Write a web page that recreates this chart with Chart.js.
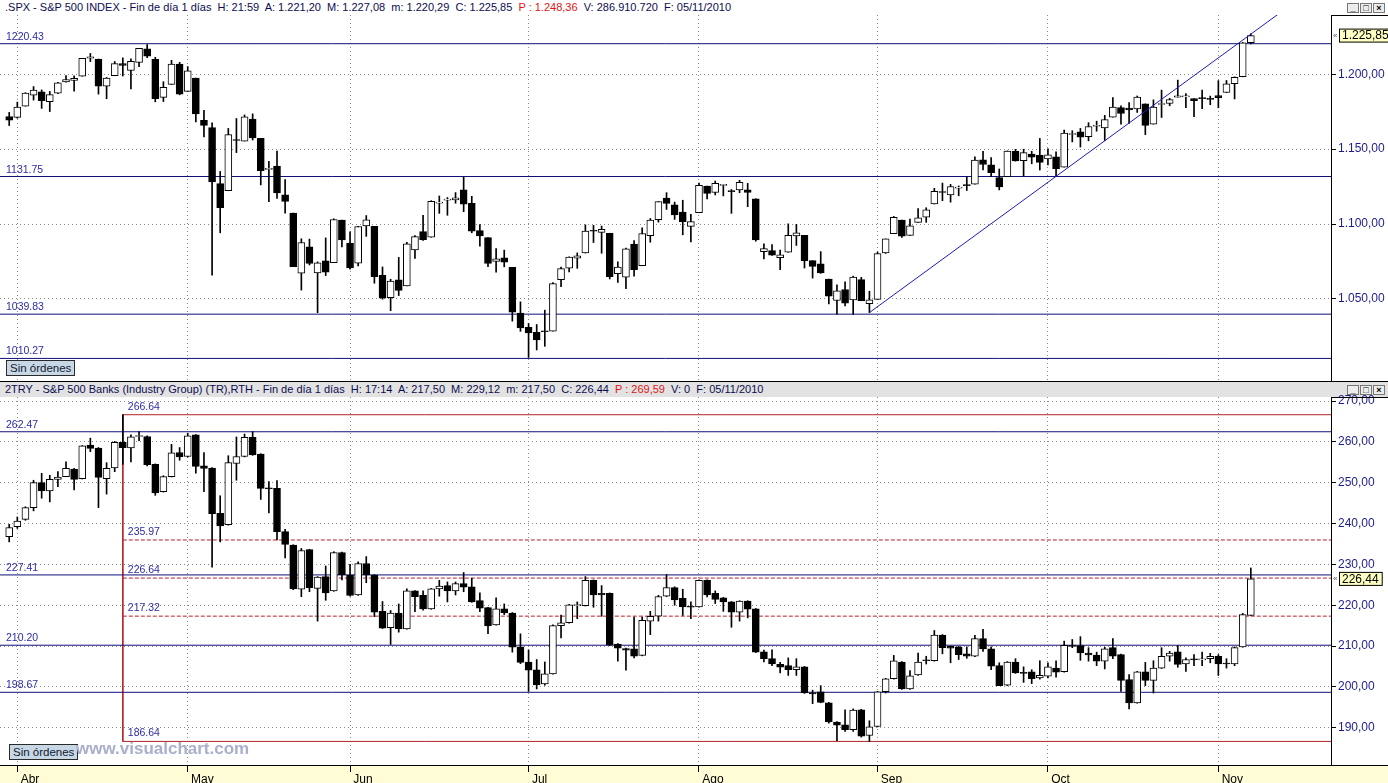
<!DOCTYPE html>
<html>
<head>
<meta charset="utf-8">
<script src="https://cdn.jsdelivr.net/npm/chart.js@4.4.0/dist/chart.umd.min.js"></script>
<style>
  body { margin: 0; width: 1388px; height: 783px; overflow: hidden; background: #fff; position: relative;
         font-family: "Liberation Sans", Arial, sans-serif; }
  .abs { position: absolute; }
  .hdr { left: 0; width: 1388px; height: 15px; font-size: 11px; line-height: 15px; color: #0c0c50;
         white-space: nowrap; box-sizing: border-box; padding-left: 5px; }
  .red { color: #e01414; }
  .btns { position: absolute; right: 3px; top: 3px; display: flex; gap: 1px; }
  .btns span { width: 10px; height: 8px; border: 1px solid #777; background: #ececec; font-size: 9px;
               line-height: 8px; text-align: center; color: #000; font-weight: bold; }
  .sin { font-size: 11.5px; background: #c8d7e6; border: 1px solid #2a2a2a; padding: 0 3px; line-height: 14px; color: #10202e; z-index: 3; }
  .line { background: #000; z-index: 3; }
</style>
</head>
<body>
<div class="abs hdr" style="top:0;background:#fff">.SPX - S&amp;P 500 INDEX - Fin de día 1 días&nbsp; H: 21:59&nbsp; A: 1.221,20&nbsp; M: 1.227,08&nbsp; m: 1.220,29&nbsp; C: 1.225,85&nbsp; <span class="red">P : 1.248,36</span>&nbsp; V: 286.910.720&nbsp; F: 05/11/2010
  <div class="btns"><span>_</span><span>□</span><span>×</span></div></div>
<div class="abs" style="left:0;top:15px;width:1388px;height:366px;z-index:1"><canvas id="spxChart"></canvas></div>
<div class="abs line" style="left:1331px;top:15px;width:57px;height:1px"></div>
<div class="abs line" style="left:0;top:381px;width:1388px;height:1px"></div>
<div class="abs hdr" style="top:382px;background:#e2e2e2">2TRY - S&amp;P 500 Banks (Industry Group) (TR),RTH - Fin de día 1 días&nbsp; H: 17:14&nbsp; A: 217,50&nbsp; M: 229,12&nbsp; m: 217,50&nbsp; C: 226,44&nbsp; <span class="red">P : 269,59</span>&nbsp; V: 0&nbsp; F: 05/11/2010
  <div class="btns"><span>_</span><span>□</span><span>×</span></div></div>
<div class="abs" style="left:0;top:765px;width:1388px;height:18px;background:#fffcd6"></div>
<div class="abs" style="left:0;top:390px;width:1388px;height:393px;z-index:1"><canvas id="bankChart"></canvas></div>
<div class="abs line" style="left:1331px;top:397px;width:57px;height:1px"></div>
<div class="abs line" style="left:1331px;top:765px;width:57px;height:1px"></div>
<div class="abs sin" style="left:6px;top:360px">Sin órdenes</div>
<div class="abs sin" style="left:9px;top:744px">Sin órdenes</div>
<div class="abs" style="left:76px;top:739px;font:bold 17px 'Liberation Sans',Arial,sans-serif;color:#a9afcc;z-index:3">www.visualchart.com</div>

<script>
// trading days 31/03/2010 .. 05/11/2010, index 0 = 31 Mar
const MONTH_TICKS = [1, 22, 42, 64, 85, 107, 128, 149];
const MONTH_LABELS = ['Abr', 'May', 'Jun', 'Jul', 'Ago', 'Sep', 'Oct', 'Nov'];

const SPX_OPEN = [
  1171.75,1171.23,1178.71,1186.01,1188.23,1181.75,1187.47,1194.94,1195.94,1198.69,
  1210.77,1210.17,1192.06,1199.04,1207.16,1202.52,1207.87,1217.07,1209.92,1184.59,
  1193.30,1206.77,1188.58,1197.50,1169.24,1164.38,1127.04,1122.27,1156.39,1155.43,
  1170.04,1157.19,1136.52,1138.78,1119.57,1107.34,1067.26,1084.78,1067.42,1075.51,
  1074.27,1102.59,1087.30,1073.89,1098.82,1098.43,1065.84,1050.81,1062.75,1058.77,
  1082.65,1095.00,1091.21,1114.02,1115.98,1116.16,1122.79,1113.90,1095.57,1090.93,
  1075.10,1077.50,1071.10,1040.56,1031.10,1027.65,1028.09,1028.54,1062.92,1070.50,
  1077.23,1080.65,1095.61,1094.46,1093.85,1066.85,1064.53,1086.67,1072.14,1092.17,
  1102.89,1117.36,1112.84,1108.07,1098.44,1107.53,1125.34,1121.06,1125.78,1122.07,
  1122.80,1122.92,1116.89,1081.48,1082.22,1077.49,1081.16,1092.08,1092.44,1075.63,
  1073.36,1063.20,1048.98,1056.28,1049.27,1062.90,1046.88,1049.72,1080.66,1093.61,
  1102.60,1092.36,1101.15,1104.57,1113.38,1121.16,1119.43,1123.89,1126.39,1126.57,
  1142.82,1139.49,1131.10,1131.69,1148.64,1142.31,1146.75,1145.97,1143.49,1144.96,
  1138.03,1159.81,1161.57,1158.36,1165.32,1164.28,1171.32,1177.82,1177.47,1176.83,
  1180.26,1166.74,1179.82,1180.52,1184.74,1184.88,1183.84,1184.47,1183.87,1185.71,
  1187.86,1193.79,1198.34,1221.20];
const SPX_HIGH = [
  1174.56,1181.43,1187.73,1191.80,1189.60,1188.55,1194.66,1199.20,1199.04,1210.65,
  1213.92,1210.17,1197.87,1208.58,1210.99,1210.27,1217.28,1219.80,1211.38,1195.05,
  1209.36,1207.99,1205.13,1197.50,1175.95,1167.58,1135.13,1163.85,1170.48,1172.87,
  1173.57,1157.19,1141.88,1148.66,1129.63,1107.34,1090.16,1089.95,1074.75,1090.75,
  1103.52,1102.59,1094.77,1098.56,1105.67,1098.43,1071.36,1063.15,1077.74,1087.85,
  1092.25,1105.91,1115.59,1118.74,1117.72,1121.01,1131.23,1118.50,1099.64,1090.93,
  1083.56,1082.60,1071.10,1048.08,1033.58,1032.95,1042.50,1060.89,1071.25,1078.16,
  1080.78,1099.46,1099.08,1098.66,1093.85,1074.70,1083.94,1088.96,1097.50,1103.73,
  1115.01,1120.95,1114.66,1115.90,1106.44,1127.30,1125.44,1128.75,1126.56,1123.06,
  1129.24,1127.16,1116.89,1086.72,1086.25,1082.62,1100.14,1099.77,1092.44,1075.63,
  1081.58,1063.20,1059.38,1061.45,1065.21,1064.40,1055.14,1081.30,1090.10,1105.10,
  1102.60,1103.26,1110.27,1110.88,1123.87,1127.36,1126.46,1125.44,1131.47,1144.86,
  1148.59,1144.38,1136.77,1148.90,1149.92,1150.00,1148.63,1157.16,1150.30,1148.16,
  1162.76,1162.33,1163.87,1167.73,1168.68,1172.58,1184.38,1178.89,1181.20,1185.53,
  1180.26,1182.94,1189.43,1183.93,1196.14,1187.11,1183.84,1189.53,1185.46,1195.81,
  1195.88,1198.30,1221.25,1227.08];
const SPX_LOW = [
  1165.77,1170.69,1178.71,1182.77,1177.25,1175.12,1187.15,1194.71,1188.82,1198.69,
  1208.50,1186.77,1183.68,1199.04,1198.85,1190.19,1205.10,1211.07,1181.62,1181.81,
  1193.30,1186.32,1188.58,1168.12,1158.15,1065.79,1094.15,1122.27,1147.71,1155.43,
  1156.14,1126.14,1114.96,1117.20,1107.34,1071.58,1055.90,1072.70,1040.78,1065.59,
  1074.27,1084.78,1069.89,1072.03,1091.81,1060.50,1049.86,1042.17,1052.25,1058.77,
  1077.12,1089.03,1091.21,1107.13,1105.87,1113.93,1108.24,1094.18,1085.31,1071.60,
  1067.89,1071.45,1035.18,1028.33,1010.91,1015.93,1018.35,1028.54,1058.24,1068.10,
  1070.45,1080.65,1087.68,1080.53,1063.32,1061.11,1056.88,1065.25,1072.14,1087.88,
  1101.30,1109.78,1103.11,1092.82,1088.01,1107.53,1116.76,1119.46,1118.81,1107.17,
  1120.91,1111.58,1088.55,1076.69,1079.00,1069.49,1081.16,1085.76,1070.66,1063.91,
  1067.08,1046.68,1039.83,1045.40,1039.70,1048.79,1040.88,1049.72,1080.39,1093.61,
  1091.15,1092.36,1101.15,1101.15,1113.38,1115.58,1114.63,1118.88,1122.43,1126.57,
  1136.22,1131.58,1122.79,1131.69,1142.00,1132.09,1140.26,1136.08,1139.42,1131.87,
  1138.03,1154.85,1151.41,1155.58,1162.02,1155.71,1171.32,1166.71,1167.12,1174.55,
  1159.71,1166.74,1171.17,1178.99,1184.74,1177.72,1171.70,1177.10,1179.70,1177.65,
  1187.86,1183.56,1198.34,1220.29];
const SPX_CLOSE = [
  1169.43,1178.10,1187.44,1189.44,1182.45,1186.44,1194.37,1196.48,1197.30,1210.65,
  1211.67,1192.13,1197.52,1207.17,1205.94,1208.67,1217.28,1212.05,1183.71,1191.36,
  1206.78,1186.69,1202.26,1173.60,1165.90,1128.15,1110.88,1159.73,1155.79,1171.67,
  1157.44,1135.68,1136.94,1120.80,1115.05,1071.59,1087.69,1073.65,1074.03,1067.95,
  1103.06,1089.41,1070.71,1098.38,1102.83,1064.88,1050.47,1062.00,1055.69,1086.84,
  1091.60,1089.63,1115.23,1114.61,1116.04,1117.51,1113.20,1095.31,1092.04,1073.69,
  1076.76,1074.57,1041.24,1030.71,1027.37,1022.58,1028.06,1060.27,1070.25,1077.96,
  1078.75,1095.34,1095.17,1096.48,1064.88,1071.25,1083.48,1069.59,1093.67,1102.66,
  1115.01,1113.84,1106.13,1101.53,1101.60,1125.86,1120.46,1127.24,1125.81,1121.64,
  1127.79,1121.06,1089.47,1083.61,1079.25,1079.38,1092.54,1094.16,1075.63,1071.69,
  1067.36,1051.87,1055.33,1047.22,1064.59,1048.92,1049.33,1080.29,1090.10,1104.51,
  1091.84,1098.87,1104.18,1109.55,1121.90,1121.10,1125.07,1124.66,1125.59,1142.71,
  1139.78,1134.28,1124.83,1148.67,1142.16,1147.70,1144.73,1141.20,1146.24,1137.03,
  1160.75,1159.97,1158.06,1165.15,1165.32,1169.77,1178.10,1173.81,1176.19,1184.71,
  1165.90,1178.17,1180.26,1183.08,1185.62,1185.64,1182.45,1183.78,1183.26,1184.38,
  1193.57,1197.96,1221.06,1225.85];

const BANK_OPEN = [
  236.8,239.2,241.0,243.9,250.0,248.0,250.8,251.5,253.3,251.0,
  259.2,258.5,251.0,253.6,259.9,258.5,261.3,261.3,254.5,247.8,
  251.5,257.4,256.4,261.7,254.1,253.6,242.5,239.7,254.7,256.4,
  261.1,257.0,248.6,248.6,238.0,234.7,223.9,233.6,224.1,227.0,
  223.5,232.9,227.4,222.5,230.2,227.4,218.5,214.5,218.1,214.2,
  223.5,222.4,219.1,224.0,224.8,223.5,225.3,224.5,221.1,219.4,
  215.2,219.1,218.1,209.8,206.1,204.2,200.7,203.2,215.0,215.7,
  219.9,219.9,226.1,222.9,222.9,210.5,209.4,209.3,207.7,216.1,
  217.3,222.2,224.3,221.7,219.6,219.6,226.1,222.9,221.8,220.8,
  218.3,221.0,219.1,208.6,206.9,205.5,205.2,204.2,204.9,198.4,
  198.8,196.1,191.4,190.7,189.5,194.4,188.1,190.3,198.8,202.0,
  206.1,199.5,202.9,206.5,206.4,212.7,209.9,209.8,208.1,207.5,
  211.8,209.3,205.2,200.4,206.1,203.4,203.7,202.2,202.6,204.6,
  203.7,210.1,210.1,208.3,207.8,206.3,209.6,207.9,201.8,196.1,
  203.7,201.6,204.6,207.5,208.6,205.6,206.7,206.6,206.9,207.5,
  205.7,205.6,209.8,217.5];
const BANK_HIGH = [
  239.8,241.6,244.1,250.6,252.3,251.8,252.7,255.1,253.5,259.1,
  260.9,258.6,254.9,260.1,266.64,261.7,262.5,261.5,254.6,251.7,
  259.4,258.6,262.1,261.8,257.4,253.7,246.8,256.6,261.2,261.9,
  262.5,257.1,250.3,250.5,238.6,234.8,233.9,233.7,227.0,229.6,
  233.1,233.0,230.0,230.6,231.9,227.5,220.9,218.7,220.3,224.0,
  223.6,223.5,224.1,226.1,225.7,225.7,228.0,226.6,223.0,219.5,
  221.8,220.3,218.2,213.0,209.0,206.7,206.1,215.2,217.6,220.2,
  220.8,227.0,226.2,224.8,223.0,210.6,209.5,217.1,217.1,218.5,
  222.4,227.5,224.5,223.9,220.8,226.2,226.2,223.5,221.9,220.9,
  221.1,221.1,219.2,209.0,209.1,206.0,207.1,206.9,205.0,199.2,
  200.3,196.2,191.5,194.4,194.6,194.5,191.7,198.9,202.1,207.7,
  206.2,204.0,208.3,207.5,213.8,212.8,210.0,209.9,209.8,212.6,
  214.1,209.8,205.9,206.2,206.9,204.9,204.2,206.4,205.9,206.4,
  211.2,211.6,212.3,209.6,208.5,209.7,211.8,208.0,203.0,203.8,
  206.0,206.4,209.6,208.7,210.1,207.1,207.9,208.5,208.2,207.9,
  206.9,209.8,218.0,229.12];
const BANK_LOW = [
  235.5,238.8,240.8,243.1,246.2,245.3,249.0,251.5,248.2,250.9,
  257.6,243.9,247.2,252.7,254.5,255.1,260.3,254.1,246.9,247.7,
  251.4,255.5,256.3,252.3,247.8,229.3,235.5,239.6,250.6,256.3,
  256.7,245.9,242.6,236.0,231.6,223.8,222.1,223.3,216.1,221.2,
  223.4,226.2,222.2,222.4,225.5,217.2,214.3,210.4,213.4,214.1,
  218.4,218.8,219.0,222.2,220.8,222.5,223.3,220.7,218.4,213.0,
  215.1,217.7,208.5,205.7,198.9,199.5,200.4,203.1,212.0,215.6,
  216.7,219.8,219.5,217.3,210.1,206.3,204.1,207.1,207.6,212.8,
  216.1,222.1,220.0,217.5,216.7,219.5,222.0,220.4,218.5,214.6,
  216.1,216.9,208.4,206.1,205.2,203.4,202.8,202.8,198.4,195.9,
  196.1,191.1,186.8,189.1,189.1,187.7,186.6,190.2,198.5,201.9,
  199.4,199.4,202.8,205.6,206.3,208.1,205.9,206.7,207.0,207.4,
  208.7,204.2,200.3,200.3,203.3,201.1,200.8,201.9,202.2,202.4,
  203.6,209.6,206.5,206.3,205.2,204.4,206.9,198.9,194.6,196.0,
  200.3,198.5,204.5,206.3,204.8,203.8,205.2,205.2,205.9,202.8,
  204.6,205.2,209.7,217.5];
const BANK_CLOSE = [
  239.0,240.6,243.9,250.0,248.0,250.8,251.4,253.5,250.8,259.0,
  258.4,251.3,253.5,259.9,258.6,261.2,261.3,254.4,247.5,251.5,
  257.3,256.3,261.5,254.0,253.5,242.4,239.4,254.9,256.4,261.1,
  256.8,248.6,248.5,238.0,234.9,224.0,233.4,224.3,226.9,223.0,
  232.9,227.5,222.4,230.2,227.4,218.3,214.4,218.1,214.2,223.5,
  222.1,219.1,224.0,224.7,223.5,225.3,224.4,220.8,219.3,214.9,
  219.1,218.1,209.7,206.0,204.1,200.5,203.2,215.0,215.7,220.1,
  219.9,226.1,222.5,222.5,210.3,209.5,209.0,207.5,216.3,217.3,
  222.1,224.3,221.3,219.6,219.5,226.1,222.5,221.4,220.8,218.3,
  221.0,219.0,208.5,206.9,205.6,204.8,204.2,204.9,198.5,198.3,
  196.2,191.4,190.6,189.5,194.3,187.9,190.2,198.8,202.0,206.4,
  199.5,202.7,206.1,206.4,212.7,209.6,209.5,207.9,207.5,211.8,
  209.3,205.1,200.3,206.1,203.4,203.3,202.0,202.8,204.9,203.6,
  210.2,209.9,208.3,207.8,206.3,209.3,207.5,201.6,196.1,203.7,
  201.6,204.6,207.5,208.3,205.5,206.7,206.6,206.7,207.5,205.6,
  205.6,209.6,217.7,226.44];

const SPX_TICKS = [1050, 1100, 1150, 1200];
const BANK_TICKS = [190, 200, 210, 220, 230, 240, 250, 260, 270];
const SPX_LEVELS = [1220.43, 1131.75, 1039.83, 1010.27];
const BANK_LEVELS = [262.47, 227.41, 210.20, 198.67];
const FIB_START = 14;                         // 21 Apr candle
const FIB_SOLID = [266.64, 186.64];
const FIB_DASHED = [235.97, 226.64, 217.32];
const TREND_A = { x: 106, y: 1040.88 };       // 31 Aug low
const TREND_B = { x: 129, y: 1131.87 };       // 4 Oct low

const XMIN = -1.134, XMAX = 162.88;
const NAVY = '#10107a';
const LABEL_BLUE = '#2c2ca6';
const RED = '#b4232a';

Chart.defaults.font.family = '"Liberation Sans", Arial, sans-serif';

function fmt(v) {
  const [a, b] = v.toFixed(2).split('.');
  return a.replace(/\B(?=(\d{3})+(?!\d))/g, '.') + ',' + b;
}

function candles(O, H, L, C) {
  return [
    { type: 'bar', data: O.map((o, i) => ({ x: i, y: [L[i], H[i]] })), backgroundColor: '#000',
      borderWidth: 0, barThickness: 1, grouped: false, order: 2 },
    { type: 'bar', data: O.map((o, i) => ({ x: i, y: [o, C[i]] })),
      backgroundColor: O.map((o, i) => C[i] >= o ? '#ffffff' : '#000000'),
      borderColor: '#000', borderWidth: 1, borderSkipped: false, barThickness: 7, minBarLength: 1,
      grouped: false, order: 1 }
  ];
}

function hline(v, color, dash, from) {
  return { type: 'line', data: [{ x: from, y: v }, { x: XMAX, y: v }], borderColor: color, borderWidth: 1,
           borderDash: dash, pointRadius: 0, order: 3 };
}

// level labels, fibonacci labels and last-price tag
const overlay = {
  id: 'overlay',
  afterDatasetsDraw(chart, args, opts) {
    const { ctx, chartArea, scales: { x, y } } = chart;
    ctx.save();
    ctx.font = '10.5px "Liberation Sans", Arial, sans-serif';
    ctx.fillStyle = LABEL_BLUE;
    opts.levels.forEach(v => ctx.fillText(v.toFixed(2), 6, y.getPixelForValue(v) - 4));
    (opts.fib || []).forEach(v => ctx.fillText(v.toFixed(2), x.getPixelForValue(FIB_START) + 5, y.getPixelForValue(v) - 5));

    const py = y.getPixelForValue(opts.last);
    const txt = fmt(opts.last);
    ctx.font = '12px "Liberation Sans", Arial, sans-serif';
    const w = ctx.measureText(txt).width + 6;
    const bx = chartArea.right + 8;
    ctx.fillStyle = '#ffffc4';
    ctx.fillRect(bx, py - 7, w, 14);
    ctx.strokeStyle = '#000';
    ctx.lineWidth = 1;
    ctx.strokeRect(bx + 0.5, py - 6.5, w, 13);
    ctx.fillStyle = '#000';
    ctx.textBaseline = 'middle';
    ctx.fillText(txt, bx + 3, py + 0.5);
    ctx.font = '8px "Liberation Sans", Arial, sans-serif';
    ctx.fillStyle = '#555';
    ctx.fillText('«', chartArea.right + 2, py);
    ctx.restore();
  }
};

function xScale(showLabels) {
  return {
    type: 'linear', min: XMIN, max: XMAX, offset: false,
    afterBuildTicks: s => { s.ticks = MONTH_TICKS.map(v => ({ value: v })); },
    afterFit: s => { s.height = showLabels ? 18 : 0; s.paddingLeft = 0; s.paddingRight = 0; },
    grid: { color: '#8a8a8a', offset: false, drawTicks: showLabels, tickLength: 7, tickColor: '#000',
            tickBorderDash: [], tickWidth: 1 },
    border: { display: showLabels, color: '#000', dash: [1, 3] },
    ticks: { display: showLabels, autoSkip: false, maxRotation: 0, align: 'start', padding: 0,
             color: '#000', font: { size: 12 }, callback: (v, i) => ' ' + MONTH_LABELS[i] }
  };
}

function yScale(min, max, ticks) {
  return {
    type: 'linear', position: 'right', min, max,
    afterBuildTicks: s => { s.ticks = ticks.map(v => ({ value: v })); },
    afterFit: s => { s.width = 57; s.paddingTop = 0; s.paddingBottom = 0; },
    grid: { color: '#8a8a8a', drawTicks: true, tickLength: 5, tickColor: '#000', tickBorderDash: [] },
    border: { display: true, color: '#000', dash: [1, 3] },
    ticks: { color: '#1d1d8f', font: { size: 12 }, padding: 2, callback: v => fmt(v) }
  };
}

function baseOptions(x, y, overlayOpts, padTop) {
  return {
    responsive: true, maintainAspectRatio: false, animation: false, events: [],
    layout: { padding: { top: padTop, left: 0, right: 0, bottom: 0 }, autoPadding: false },
    plugins: { legend: { display: false }, tooltip: { enabled: false }, overlay: overlayOpts },
    scales: { x, y }
  };
}

const trendEnd = 160;
const slope = (TREND_B.y - TREND_A.y) / (TREND_B.x - TREND_A.x);

new Chart(document.getElementById('spxChart'), {
  type: 'bar',
  data: {
    datasets: [
      ...candles(SPX_OPEN, SPX_HIGH, SPX_LOW, SPX_CLOSE),
      ...SPX_LEVELS.map(v => hline(v, NAVY, [], XMIN)),
      { type: 'line', data: [TREND_A, { x: trendEnd, y: TREND_A.y + slope * (trendEnd - TREND_A.x) }],
        borderColor: '#1c1cb4', borderWidth: 1, pointRadius: 0, order: 0 }
    ]
  },
  options: baseOptions(xScale(false), yScale(995.2, 1239.6, SPX_TICKS),
                       { levels: SPX_LEVELS, last: SPX_CLOSE[SPX_CLOSE.length - 1] }, 0),
  plugins: [overlay]
});

new Chart(document.getElementById('bankChart'), {
  type: 'bar',
  data: {
    datasets: [
      ...candles(BANK_OPEN, BANK_HIGH, BANK_LOW, BANK_CLOSE),
      ...BANK_LEVELS.map(v => hline(v, NAVY, [], XMIN)),
      ...FIB_SOLID.map(v => hline(v, RED, [], FIB_START)),
      ...FIB_DASHED.map(v => hline(v, RED, [4, 2], FIB_START)),
      { type: 'line', data: FIB_SOLID.map(v => ({ x: FIB_START, y: v })), borderColor: RED, borderWidth: 1,
        pointRadius: 0, order: 3 }
    ]
  },
  options: baseOptions(xScale(true), yScale(180.87, 270.98, BANK_TICKS),
                       { levels: BANK_LEVELS, fib: [...FIB_SOLID, ...FIB_DASHED],
                         last: BANK_CLOSE[BANK_CLOSE.length - 1] }, 7),
  plugins: [overlay]
});
</script>
</body>
</html>
